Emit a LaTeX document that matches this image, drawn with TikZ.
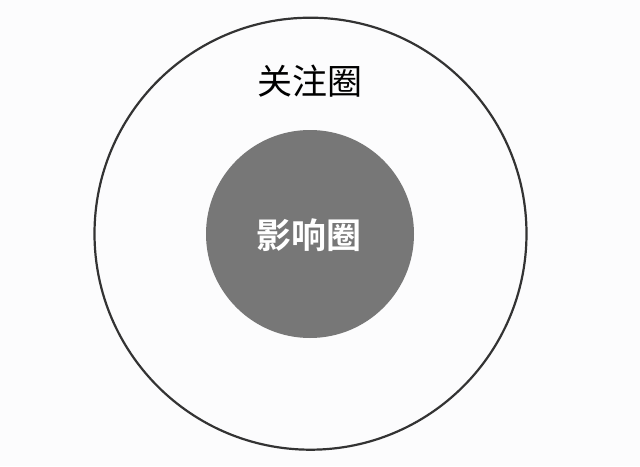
\documentclass[tikz,border=0pt]{standalone}
\usepackage{fontspec}
\newfontfamily\cjk{Noto Sans CJK SC}
\newfontfamily\cjkb{Noto Sans CJK SC Bold}
\definecolor{bg}{HTML}{FCFCFD}
\definecolor{ring}{HTML}{333333}
\definecolor{core}{HTML}{777777}
\begin{document}
\begin{tikzpicture}[x=1pt,y=-1pt,
  outerring/.style={circle,draw=ring,line width=2.2pt,minimum size=432pt,inner sep=0pt},
  innercore/.style={circle,fill=core,minimum size=208pt,inner sep=0pt},
  lab/.style={inner sep=0pt,font=\cjk\fontsize{35}{35}\selectfont}]
\fill[bg] (0,0) rectangle (640,466);
\useasboundingbox (0,0) rectangle (640,466);
\node[outerring] (outer) at (310.5,233.7) {};
\node[innercore] (inner) at (310,234) {};
\node[lab,text=black] (t1) at (309.5,81) {关注圈};
\node[lab,text=white,font=\cjkb\fontsize{35}{35}\selectfont] (t2) at (309,235) {影响圈};
\end{tikzpicture}
\end{document}
